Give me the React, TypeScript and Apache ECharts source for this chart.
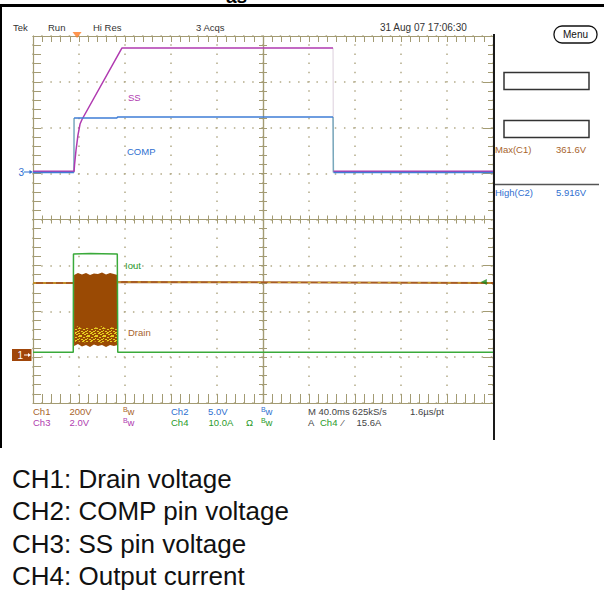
import React, { useEffect, useRef } from 'react';
import * as echarts from 'echarts';

// Time axis in ms (40 ms/div, 10 div), amplitude in screen divisions (8 div, centre = 0)
const timeMin = -200;
const timeMax = 200;
const timeStep = 40;
const divMin = -4;
const divMax = 4;

// CH3: SS pin voltage (trace in divisions)
const ssTrace: any[] = [
  [-200, 1.05], [-164.3, 1.05], [-163.9, 1.19], [-162.6, 1.51], [-160.9, 1.84],
  [-159.1, 2.08], [-157.4, 2.18], [-122.6, 3.74], [60.9, 3.74], [61.0, '-'],
  [61.3, 1.05], [200, 1.05],
];
const ssEdge: any[] = [[60.9, 3.74], [61.2, 1.05]];

// CH2: COMP pin voltage
const compTrace: any[] = [
  [-200, 1.025], [-164.4, 1.025], [-164.3, '-'], [-164.3, 2.213], [-127.0, 2.213],
  [-126.5, 2.234], [60.9, 2.234], [61.0, '-'], [61.3, 1.025], [200, 1.025],
];
const compEdges: any[] = [[-164.4, 1.025], [-164.3, 2.213], [0, '-'], [60.9, 2.234], [61.2, 1.025]];

// CH4: output current
const ioutTrace: any[] = [
  [-200, -2.894], [-165.0, -2.894], [-164.8, -0.752], [-150, -0.74], [-140, -0.745],
  [-126.7, -0.752], [-126.3, -2.894], [200, -2.894],
];

// CH1: drain voltage (baseline) and switching burst envelope
const drainTrace: any[] = [
  [-200, -1.384], [-164.4, -1.384], [-164.0, '-'], [-126.3, -1.37], [-122, -1.362], [200, -1.384],
];
const drainTop: [number, number][] = [
  [-164.3, -1.21], [-160.9, -1.166], [-157.4, -1.199], [-153.9, -1.166], [-150.4, -1.21],
  [-147.0, -1.177], [-143.5, -1.188], [-140.0, -1.155], [-136.5, -1.199], [-133.0, -1.166],
  [-129.6, -1.188], [-126.5, -1.21],
];
const drainBottom: [number, number][] = [
  [-164.3, -2.757], [-160.9, -2.714], [-157.4, -2.768], [-153.9, -2.736], [-150.4, -2.779],
  [-147.0, -2.725], [-143.5, -2.757], [-140.0, -2.736], [-136.5, -2.779], [-133.0, -2.736],
  [-129.6, -2.757], [-126.5, -2.736],
];
const yellowTop: [number, number][] = [
  [-163.5, -2.365], [-160.9, -2.322], [-157.4, -2.387], [-153.9, -2.343], [-150.4, -2.409],
  [-147.0, -2.343], [-143.5, -2.365], [-140.0, -2.322], [-136.5, -2.387], [-133.0, -2.343],
  [-129.6, -2.365], [-127.0, -2.343],
];
const yellowBottom: [number, number][] = [
  [-163.5, -2.67], [-160.9, -2.649], [-157.4, -2.692], [-153.9, -2.67], [-150.4, -2.692],
  [-147.0, -2.649], [-143.5, -2.67], [-140.0, -2.692], [-136.5, -2.649], [-133.0, -2.67],
  [-129.6, -2.692], [-127.0, -2.67],
];

// Markers
const triggerPosition: [number, number][] = [[-161.7, 4.02]];
const triggerLevel: [number, number][] = [[192, -1.36]];

// Texts
const topBar = ['Tek', 'Run', 'Hi Res', '3 Acqs', '31 Aug 07 17:06:30'];
const measLabels = ['Max(C1)', 'High(C2)'];
const measValues = ['361.6V', '5.916V'];
const captions = ['CH1: Drain voltage', 'CH2: COMP pin voltage', 'CH3: SS pin voltage', 'CH4: Output current'];

const FONT = '"Liberation Sans", Arial, Helvetica, sans-serif';
const OLIVE = '#a39b73';
const DOT = '#b3aa88';
const C_BROWN = '#a8642c';
const C_BLUE = '#2f6fd0';
const C_MAG = '#b03cb0';
const C_GREEN = '#2a9a2a';

// speckle texture cells (yellow pixels inside an 8x8 brown tile)
const speckleCells: [number, number][] = [
  [0, 0], [3, 1], [6, 0], [1, 3], [5, 3], [7, 2], [2, 5], [4, 6], [6, 5], [0, 7], [3, 4], [7, 7],
];

function txt(x: number, y: number, s: string, fill: string, size = 9.5, extra: any = {}) {
  return {
    type: 'text', x, y, silent: true, z: 100,
    style: { text: s, fill, fontSize: size, fontFamily: FONT, align: 'left', verticalAlign: 'middle', ...extra },
  };
}
function bw(x: number, y: number, fill: string) {
  return [txt(x, y - 2, 'B', fill, 7), txt(x + 4.5, y, 'w', fill, 9.5)];
}

function xAx(position: string, onZero: boolean, inside: boolean, len: number, minorLen: number, split: boolean) {
  return {
    type: 'value', min: timeMin, max: timeMax, interval: timeStep, position,
    axisLine: { show: true, onZero, onZeroAxisIndex: 0, lineStyle: { color: OLIVE, width: 1.2 } },
    axisTick: { show: true, inside, length: len, lineStyle: { color: OLIVE, width: 1 } },
    minorTick: { show: true, splitNumber: 5, length: minorLen, lineStyle: { color: OLIVE, width: 1 } },
    axisLabel: { show: false },
    splitLine: { show: split, lineStyle: { color: DOT, width: 1.5, type: [1.5, 7.7], dashOffset: 0.75 } },
    minorSplitLine: { show: false },
  };
}
function yAx(position: string, onZero: boolean, inside: boolean, len: number, minorLen: number, split: boolean) {
  return {
    type: 'value', min: divMin, max: divMax, interval: 1, position,
    axisLine: { show: true, onZero, onZeroAxisIndex: 0, lineStyle: { color: OLIVE, width: 1.2 } },
    axisTick: { show: true, inside, length: len, lineStyle: { color: OLIVE, width: 1 } },
    minorTick: { show: true, splitNumber: 5, length: minorLen, lineStyle: { color: OLIVE, width: 1 } },
    axisLabel: { show: false },
    splitLine: { show: split, lineStyle: { color: DOT, width: 1.5, type: [1.5, 7.675], dashOffset: 0.75 } },
    minorSplitLine: { show: false },
  };
}

function bandSeries(top: [number, number][], bottom: [number, number][], fill: any, z: number) {
  const pts = top.concat(bottom.slice().reverse());
  return {
    type: 'custom', xAxisIndex: 0, yAxisIndex: 0, z,
    data: [[top[0][0], top[0][1]]],
    renderItem: (_p: any, api: any) => ({
      type: 'polygon',
      shape: { points: pts.map((p) => api.coord(p)) },
      style: { fill },
    }),
    silent: true,
  };
}

export default function App() {
  const ref = useRef<HTMLDivElement>(null);
  useEffect(() => {
    if (!ref.current) return;
    const chart = echarts.init(ref.current, null, { renderer: 'svg' });

    // speckled fill for the yellow part of the burst
    const tile = document.createElement('canvas');
    tile.width = 8;
    tile.height = 8;
    const ctx = tile.getContext('2d');
    let speckleFill: any = '#c89a1c';
    if (ctx) {
      ctx.fillStyle = '#9a4a04';
      ctx.fillRect(0, 0, 8, 8);
      ctx.fillStyle = '#e8d020';
      speckleCells.forEach(([cx, cy]) => ctx.fillRect(cx, cy, 2, 1));
      speckleFill = { image: tile, repeat: 'repeat' };
    }

    const graphic: any[] = [
      // cropped title fragment at the very top
      { type: 'text', x: 226, y: -4, silent: true, style: { text: 'as', fill: '#000', fontSize: 19, fontWeight: 'bold', fontFamily: FONT, verticalAlign: 'middle' } },
      // frame
      { type: 'rect', shape: { x: 0, y: 4, width: 604, height: 3 }, style: { fill: '#000' }, z: 101 },
      { type: 'rect', shape: { x: 0, y: 4, width: 2, height: 444 }, style: { fill: '#000' }, z: 101 },
      { type: 'rect', shape: { x: 493, y: 34, width: 2, height: 406 }, style: { fill: '#1a1a1a' }, z: 101 },
      // top bar
      txt(13, 27.5, topBar[0], '#333'),
      txt(48, 27.5, topBar[1], '#333'),
      txt(93, 27.5, topBar[2], '#333'),
      txt(196, 27.5, topBar[3], '#333'),
      txt(380, 27.5, topBar[4], '#333', 10),
      // menu button
      { type: 'rect', shape: { x: 554, y: 26, width: 43, height: 17, r: 8 }, style: { fill: '#fff', stroke: '#111', lineWidth: 1.3 }, z: 100 },
      txt(575.5, 34.5, 'Menu', '#111', 10, { align: 'center' }),
      // measurement boxes
      { type: 'rect', shape: { x: 504, y: 72.5, width: 85, height: 17 }, style: { fill: 'none', stroke: '#333', lineWidth: 1.5 }, z: 100 },
      { type: 'rect', shape: { x: 504, y: 120.5, width: 85, height: 17 }, style: { fill: 'none', stroke: '#333', lineWidth: 1.5 }, z: 100 },
      txt(495, 149.5, measLabels[0], C_BROWN),
      txt(556, 149.5, measValues[0], C_BROWN),
      { type: 'line', shape: { x1: 495, y1: 184.5, x2: 599, y2: 184.5 }, style: { stroke: '#555', lineWidth: 1.5 }, z: 100 },
      txt(495, 192.5, measLabels[1], C_BLUE),
      txt(556, 192.5, measValues[1], C_BLUE),
      // trace labels
      txt(128, 97, 'SS', C_MAG),
      txt(127, 151, 'COMP', C_BLUE),
      txt(125, 265, 'Iout', C_GREEN),
      txt(128, 332, 'Drain', C_BROWN),
      // ground markers
      txt(18.5, 172.5, '3', C_BLUE, 10),
      { type: 'line', shape: { x1: 24, y1: 172, x2: 30, y2: 172 }, style: { stroke: C_BLUE, lineWidth: 1 }, z: 100 },
      { type: 'polygon', shape: { points: [[33, 172], [29.5, 170], [29.5, 174]] }, style: { fill: C_BLUE }, z: 100 },
      { type: 'rect', shape: { x: 12, y: 349, width: 19.5, height: 12 }, style: { fill: '#a0460a' }, z: 100 },
      txt(17.5, 355.5, '1', '#fff', 10),
      { type: 'line', shape: { x1: 24, y1: 355, x2: 28.5, y2: 355 }, style: { stroke: '#fff', lineWidth: 1 }, z: 101 },
      { type: 'polygon', shape: { points: [[31, 355], [28, 353], [28, 357]] }, style: { fill: '#fff' }, z: 101 },
      // bottom info rows
      txt(33, 411.5, 'Ch1', C_BROWN),
      txt(69.5, 411.5, '200V', C_BROWN),
      ...bw(123, 411.5, C_BROWN),
      txt(171, 411.5, 'Ch2', C_BLUE),
      txt(208, 411.5, '5.0V', C_BLUE),
      ...bw(261, 411.5, C_BLUE),
      txt(308, 411.5, 'M 40.0ms 625kS/s', '#444'),
      txt(410, 411.5, '1.6\u00b5s/pt', '#444'),
      txt(33, 422.5, 'Ch3', C_MAG),
      txt(69.5, 422.5, '2.0V', C_MAG),
      ...bw(123, 422.5, C_MAG),
      txt(171, 422.5, 'Ch4', C_GREEN),
      txt(208.5, 422.5, '10.0A', C_GREEN),
      txt(246, 422.5, '\u03a9', C_GREEN),
      ...bw(261, 422.5, C_GREEN),
      txt(308, 422.5, 'A', '#444'),
      txt(320, 422.5, 'Ch4', C_GREEN),
      txt(342, 422.5, '\u2044', '#444'),
      txt(356.5, 422.5, '15.6A', '#444'),
      // captions
      ...captions.map((c, i) => ({
        type: 'text', x: 12, y: 479 + i * 32.4, silent: true, z: 100,
        style: { text: c, fill: '#111', fontSize: 26, fontFamily: FONT, verticalAlign: 'middle' },
      })),
    ];

    const option: any = {
      animation: false,
      backgroundColor: '#fff',
      grid: { left: 33, top: 36, width: 460, height: 367, containLabel: false, outerBoundsMode: 'none' },
      xAxis: [
        xAx('bottom', false, true, 9, 9, true),
        xAx('top', false, true, 6, 6, false),
        xAx('bottom', true, true, 4, 4, false),
        xAx('bottom', true, false, 4, 4, false),
      ],
      yAxis: [
        yAx('left', false, true, 8, 8, true),
        yAx('right', false, true, 10, 5, false),
        yAx('left', true, true, 4, 4, false),
        yAx('left', true, false, 4, 4, false),
      ],
      series: [
        {
          name: 'Drain', type: 'line', data: drainTrace, showSymbol: false, z: 3,
          lineStyle: { color: '#a85c24', width: 2 }, silent: true,
        },
        {
          name: 'Drain noise', type: 'line', data: drainTrace, showSymbol: false, z: 3,
          lineStyle: { color: '#d8c030', width: 1, type: [3, 7] }, silent: true,
        },
        bandSeries(drainTop, drainBottom, '#9a4a04', 3),
        bandSeries(yellowTop, yellowBottom, speckleFill, 4),
        {
          name: 'Iout', type: 'line', data: ioutTrace, showSymbol: false, z: 5,
          lineStyle: { color: '#3aaa3a', width: 1.5 }, silent: true,
        },
        {
          name: 'SS edge', type: 'line', data: ssEdge, showSymbol: false, z: 5,
          lineStyle: { color: '#ddd0dd', width: 1 }, silent: true,
        },
        {
          name: 'SS', type: 'line', data: ssTrace, showSymbol: false, z: 6,
          lineStyle: { color: '#b03ab0', width: 1.5 }, silent: true,
        },
        {
          name: 'COMP edge', type: 'line', data: compEdges, showSymbol: false, z: 5,
          lineStyle: { color: '#78a8bc', width: 1.5 }, silent: true,
        },
        {
          name: 'COMP', type: 'line', data: compTrace, showSymbol: false, z: 7,
          lineStyle: { color: '#3f7ed6', width: 1.5 }, silent: true,
        },
        {
          name: 'Trigger position', type: 'scatter', data: triggerPosition, symbol: 'triangle',
          symbolRotate: 180, symbolSize: [9, 6], itemStyle: { color: '#ff7a22' }, clip: false, z: 8, silent: true,
        },
        {
          name: 'Trigger level', type: 'scatter', data: triggerLevel, symbol: 'triangle',
          symbolRotate: 90, symbolSize: [6, 6], itemStyle: { color: '#1a8a1a' }, clip: false, z: 8, silent: true,
        },
      ],
      graphic,
    };
    chart.setOption(option);
    return () => chart.dispose();
  }, []);
  return <div ref={ref} style={{ position: 'absolute', left: 0, top: 0, width: 604, height: 600 }} />;
}
